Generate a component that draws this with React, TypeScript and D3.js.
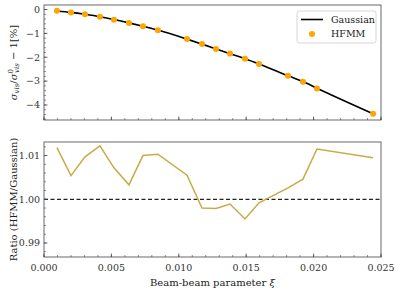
import React from "react";
import * as d3 from "d3";

const xiValues = [0.00096, 0.00200, 0.00304, 0.00415, 0.00519, 0.00630, 0.00734, 0.00845, 0.01061, 0.01172, 0.01276, 0.01380, 0.01491, 0.01595, 0.01810, 0.01921, 0.02025, 0.02441];
const hfmmValues = [-0.05, -0.12, -0.20, -0.30, -0.43, -0.56, -0.70, -0.87, -1.24, -1.44, -1.65, -1.84, -2.06, -2.28, -2.78, -3.03, -3.31, -4.37];
const gaussianValues = [-0.06, -0.12, -0.20, -0.30, -0.42, -0.56, -0.70, -0.86, -1.24, -1.45, -1.65, -1.85, -2.06, -2.28, -2.77, -3.02, -3.30, -4.37];
const ratioValues = [1.0118, 1.0054, 1.0097, 1.0122, 1.0072, 1.0033, 1.0100, 1.0103, 1.0055, 0.9980, 0.9979, 0.9989, 0.9955, 0.9992, 1.0026, 1.0046, 1.0115, 1.0095];

const xTicks = [0, 0.005, 0.01, 0.015, 0.02, 0.025];
const xTickLabels = ["0.000", "0.005", "0.010", "0.015", "0.020", "0.025"];
const topTicks = [0, -1, -2, -3, -4];
const topTickLabels = ["0", "\u22121", "\u22122", "\u22123", "\u22124"];
const bottomTicks = [0.99, 1.0, 1.01];
const bottomTickLabels = ["0.99", "1.00", "1.01"];

const FONT = "'DejaVu Serif', serif";
const SPINE = "#444";

export default function App() {
  const W = 398, H = 291;
  const left = 44, right = 381;
  const top1 = 5, bot1 = 120;
  const top2 = 142, bot2 = 257;

  const x = d3.scaleLinear().domain([0, 0.025]).range([left, right]);
  const y1 = d3.scaleLinear().domain([-4.63, 0.19]).range([bot1, top1]);
  const y2 = d3.scaleLinear().domain([0.9868, 1.0131]).range([bot2, top2]);

  const pts = xiValues.map((v, i) => ({ x: v, g: gaussianValues[i], h: hfmmValues[i], r: ratioValues[i] }));
  const gLine = d3.line<any>().x((d) => x(d.x)).y((d) => y1(d.g)).curve(d3.curveMonotoneX)(pts) || "";
  const rLine = d3.line<any>().x((d) => x(d.x)).y((d) => y2(d.r))(pts) || "";

  const xMinor = d3.range(0, 0.02501, 0.001);
  const topMinor = d3.range(-4.6, 0.19, 0.2);
  const botMinor = d3.range(0.988, 1.013, 0.002);

  const xAxisTicks = (yb: number) => (
    <g>
      {xMinor.map((t, i) => (
        <line key={"m" + i} x1={x(t)} x2={x(t)} y1={yb} y2={yb - 2} stroke={SPINE} strokeWidth={0.6} />
      ))}
      {xTicks.map((t, i) => (
        <line key={"M" + i} x1={x(t)} x2={x(t)} y1={yb} y2={yb - 3.5} stroke={SPINE} strokeWidth={0.8} />
      ))}
    </g>
  );

  return (
    <svg width={W} height={H} style={{ position: "absolute", left: 0, top: 0, background: "#fff" }} fontFamily={FONT}>
      {/* Top panel */}
      <path d={gLine} fill="none" stroke="#000" strokeWidth={1.6} />
      {pts.map((d, i) => (
        <circle key={i} cx={x(d.x)} cy={y1(d.h)} r={3} fill="#FFA500" />
      ))}
      {topMinor.map((t, i) => (
        <line key={"tm" + i} x1={left} x2={left + 2} y1={y1(t)} y2={y1(t)} stroke={SPINE} strokeWidth={0.6} />
      ))}
      {topTicks.map((t, i) => (
        <g key={"tt" + i}>
          <line x1={left} x2={left + 3.5} y1={y1(t)} y2={y1(t)} stroke={SPINE} strokeWidth={0.8} />
          <text x={left - 4} y={y1(t)} dy="0.35em" textAnchor="end" fontSize={9.5} fill="#333">{topTickLabels[i]}</text>
        </g>
      ))}
      {xAxisTicks(bot1)}
      <rect x={left} y={top1} width={right - left} height={bot1 - top1} fill="none" stroke={SPINE} strokeWidth={0.8} />

      {/* Legend */}
      <rect x={297} y={11} width={79} height={32} rx={2.5} fill="#fff" fillOpacity={0.8} stroke="#ccc" strokeWidth={0.8} />
      <line x1={301} x2={323} y1={19.5} y2={19.5} stroke="#000" strokeWidth={1.6} />
      <text x={331} y={19.5} dy="0.35em" fontSize={9.5} fill="#222">Gaussian</text>
      <circle cx={312} cy={34} r={3} fill="#FFA500" />
      <text x={331} y={34} dy="0.35em" fontSize={9.5} fill="#222">HFMM</text>

      {/* Top y label */}
      <text transform={`translate(17,${(top1 + bot1) / 2}) rotate(-90)`} textAnchor="middle" fontSize={10} fill="#222">
        <tspan fontStyle="italic">σ</tspan>
        <tspan fontSize={7} dy="2" fontStyle="italic">vis</tspan>
        <tspan dy="-2">/</tspan>
        <tspan fontStyle="italic">σ</tspan>
        <tspan fontSize={7} dy="-4">0</tspan>
        <tspan fontSize={7} dx="-4" dy="6" fontStyle="italic">vis</tspan>
        <tspan dy="-2"> − 1[%]</tspan>
      </text>

      {/* Bottom panel */}
      <line x1={left} x2={right} y1={y2(1.0)} y2={y2(1.0)} stroke="#222" strokeWidth={1.2} strokeDasharray="4,2.5" />
      <path d={rLine} fill="none" stroke="#C9AA48" strokeWidth={1.5} />
      {botMinor.map((t, i) => (
        <line key={"bm" + i} x1={left} x2={left + 2} y1={y2(t)} y2={y2(t)} stroke={SPINE} strokeWidth={0.6} />
      ))}
      {bottomTicks.map((t, i) => (
        <g key={"bt" + i}>
          <line x1={left} x2={left + 3.5} y1={y2(t)} y2={y2(t)} stroke={SPINE} strokeWidth={0.8} />
          <text x={left - 4} y={y2(t)} dy="0.35em" textAnchor="end" fontSize={9.5} fill="#333">{bottomTickLabels[i]}</text>
        </g>
      ))}
      {xAxisTicks(bot2)}
      {xTicks.map((t, i) => (
        <text key={"xl" + i} x={x(t)} y={bot2 + 11} dy="0.35em" textAnchor="middle" fontSize={9.5} fill="#333">{xTickLabels[i]}</text>
      ))}
      <rect x={left} y={top2} width={right - left} height={bot2 - top2} fill="none" stroke={SPINE} strokeWidth={0.8} />
      <text x={(left + right) / 2} y={282} dy="0.35em" textAnchor="middle" fontSize={10} fill="#222">
        Beam-beam parameter <tspan fontStyle="italic">ξ</tspan>
      </text>
      <text transform={`translate(17,${(top2 + bot2) / 2}) rotate(-90)`} textAnchor="middle" fontSize={10} fill="#222">
        Ratio (HFMM/Gaussian)
      </text>
    </svg>
  );
}
